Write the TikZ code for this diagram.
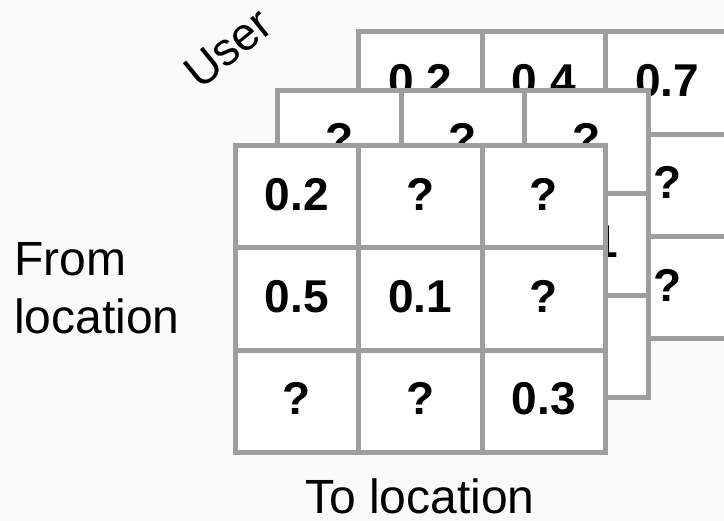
\documentclass[tikz,border=0pt]{standalone}
\usepackage{fontspec}
\setmainfont{Liberation Sans}
\definecolor{gridgray}{HTML}{9E9E9E}
\definecolor{bgcol}{HTML}{FAFAFA}
\begin{document}
\begin{tikzpicture}[x=1pt,y=-1pt,
  cell/.style={draw=gridgray,fill=white,line width=5pt,minimum width=123.5pt,
    minimum height=102.3pt,inner sep=0pt,text height=33pt,text depth=6pt,
    font=\fontsize{46}{55}\selectfont\bfseries},
  lbl/.style={font=\fontsize{48}{58}\selectfont,inner sep=0pt}]
\useasboundingbox (0,0) rectangle (724,521);
\fill[bgcol] (0,0) rectangle (724,521);
\clip (0,0) rectangle (724,521);
% back grid
\foreach \t [count=\i from 0] in {0.2,0.4,0.7,{},{},?,{},{},?}{
  \pgfmathtruncatemacro\r{floor(\i/3)}
  \pgfmathtruncatemacro\c{mod(\i,3)}
  \node[cell] (b-\r-\c) at ({358.5+61.75+123.5*\c},{32+51.15+102.3*\r}) {\t};
}
% middle grid
\foreach \t [count=\i from 0] in {?,?,?,{},{},0.1,{},{},{}}{
  \pgfmathtruncatemacro\r{floor(\i/3)}
  \pgfmathtruncatemacro\c{mod(\i,3)}
  \node[cell] (m-\r-\c) at ({277.5+61.75+123.5*\c},{90.8+51.15+102.3*\r}) {\t};
}
% front grid
\foreach \t [count=\i from 0] in {0.2,?,?,0.5,0.1,?,?,?,0.3}{
  \pgfmathtruncatemacro\r{floor(\i/3)}
  \pgfmathtruncatemacro\c{mod(\i,3)}
  \node[cell] (f-\r-\c) at ({235+61.75+123.5*\c},{145.5+51.15+102.3*\r}) {\t};
}
\node[lbl,font=\fontsize{46}{55}\selectfont,rotate=39] (user) at (228,48) {User};
\node[lbl,align=left,anchor=north west] (from) at (14,242) {From\\location};
\node[lbl,anchor=base] (to) at (420,514) {To location};
\end{tikzpicture}
\end{document}
